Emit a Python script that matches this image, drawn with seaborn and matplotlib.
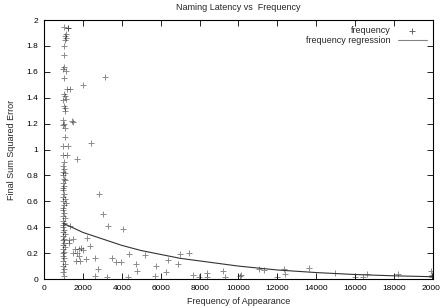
import matplotlib
matplotlib.use("Agg")
import matplotlib.pyplot as plt
import seaborn as sns
import pandas as pd

# Scatter data: frequency of appearance vs final sum squared error
cluster_x = [1030, 1230, 1120, 1100, 1110, 1080, 1030, 1030, 1010, 1000, 1150, 1010,
             1170, 1340, 1040, 1080, 1130, 960, 1040, 1060, 1080, 1000, 1050, 1000,
             1080, 1080, 1000, 1240, 1000, 1200, 1040, 1000, 1040,
             1000, 1060, 980, 1020, 1100, 1000, 1040, 980, 1000, 1040, 1000, 1080,
             1000, 1150, 1020, 1000, 980, 1040, 1000, 1060, 1000, 1020, 980, 1000,
             1040, 1000, 1060, 1000, 1020, 980, 1040, 1000, 1060, 1000, 1020, 980,
             1000, 1040, 1000, 1060, 1000, 1020, 1000, 1040]
cluster_y = [1.948, 1.936, 1.89, 1.876, 1.86, 1.846, 1.80, 1.73, 1.64, 1.62, 1.61, 1.555,
             1.47, 1.47, 1.43, 1.41, 1.39, 1.38, 1.336, 1.318, 1.30, 1.23, 1.20, 1.19,
             1.17, 1.10, 1.027, 1.027, 0.957, 0.957, 0.906, 0.875, 0.85,
             0.83, 0.816, 0.80, 0.77, 0.765, 0.74, 0.72, 0.70, 0.687, 0.66, 0.636, 0.62,
             0.60, 0.585, 0.57, 0.55, 0.53, 0.51, 0.49, 0.47, 0.45, 0.43, 0.42, 0.40,
             0.38, 0.36, 0.35, 0.33, 0.31, 0.30, 0.28, 0.26, 0.25, 0.23, 0.21, 0.20,
             0.18, 0.16, 0.14, 0.12, 0.10, 0.08, 0.055, 0.02]
spread_x = [3136, 1990, 1420, 1510, 1234, 2400, 1680, 2845, 3016, 1337, 3290, 4045,
            1475, 2195, 1270, 1300, 2365, 1610, 1800, 1900, 2020, 1510, 1710, 1815,
            4355, 5210, 6990, 7470, 3480, 3700, 2640, 2140, 1645, 1850, 3940, 4730,
            6375, 6890, 5760, 2776, 4765, 6270, 2600, 3220, 4320, 5720,
            7680, 7990, 8400, 8400, 9190, 9320, 10080, 10130, 11070, 11310, 12340,
            12400, 11960, 13610, 14950, 15980, 16390, 16590, 18200, 19880, 19930,
            19950, 19980, 19960]
spread_y = [1.56, 1.50, 1.22, 1.21, 1.936, 1.05, 0.93, 0.654, 0.50, 0.41, 0.41, 0.386,
            0.31, 0.32, 0.30, 0.275, 0.257, 0.23, 0.235, 0.24, 0.225, 0.20, 0.198, 0.18,
            0.193, 0.185, 0.195, 0.198, 0.16, 0.13, 0.16, 0.157, 0.14, 0.14, 0.13, 0.116,
            0.144, 0.12, 0.103, 0.075, 0.064, 0.052, 0.026, 0.015, 0.013, 0.026,
            0.03, 0.018, 0.05, 0.013, 0.064, 0.013, 0.023, 0.033, 0.077, 0.07, 0.077,
            0.036, 0.013, 0.087, 0.05, 0.013, 0.013, 0.036, 0.036, 0.064, 0.023,
            0.015, 0.02, 0.03]

# Regression curve
reg_x = [1000, 2000, 3000, 4000, 5000, 6000, 7000, 8000, 10000, 12000, 14000, 16000, 18000, 20000]
reg_y = [0.43, 0.36, 0.31, 0.26, 0.22, 0.19, 0.16, 0.14, 0.10, 0.07, 0.05, 0.035, 0.025, 0.018]

x_ticks = [0, 2000, 4000, 6000, 8000, 10000, 12000, 14000, 16000, 18000, 20000]
y_ticks = [0, 0.2, 0.4, 0.6, 0.8, 1.0, 1.2, 1.4, 1.6, 1.8, 2.0]
y_tick_labels = ["0", "0.2", "0.4", "0.6", "0.8", "1", "1.2", "1.4", "1.6", "1.8", "2"]

pts = pd.DataFrame({"x": cluster_x + spread_x, "y": cluster_y + spread_y})
reg = pd.DataFrame({"x": reg_x, "y": reg_y})

sns.set_style("ticks")
plt.rcParams["font.family"] = ["Liberation Sans", "DejaVu Sans"]

fig = plt.figure(figsize=(4.4, 3.08), dpi=100)
ax = fig.add_axes([0.1, 0.094, 0.884, 0.841])

sns.scatterplot(data=pts, x="x", y="y", marker="+", color="black", s=15,
                linewidth=0.7, alpha=0.45, ax=ax, label="frequency")
sns.lineplot(data=reg, x="x", y="y", color="#333333", linewidth=0.8, ax=ax,
             label="frequency regression")

ax.set_xlim(0, 20000)
ax.set_ylim(0, 2)
ax.set_xticks(x_ticks)
ax.set_xticklabels([str(t) for t in x_ticks])
ax.set_yticks(y_ticks)
ax.set_yticklabels(y_tick_labels)
ax.tick_params(direction="in", top=True, right=True, length=4, width=0.6,
               labelsize=6, pad=4, colors="black")
for s in ax.spines.values():
    s.set_linewidth(0.8)
    s.set_color("black")

ax.set_title("Naming Latency vs  Frequency", fontsize=6.5, pad=7)
ax.set_xlabel("Frequency of Appearance", fontsize=6.5, labelpad=4)
ax.set_ylabel("Final Sum Squared Error", fontsize=6.5, labelpad=8)

leg = ax.legend(loc="upper right", frameon=False, markerfirst=False, fontsize=6.5,
                handlelength=3.2, handletextpad=0.8, labelspacing=0.1,
                borderaxespad=0.3)
for h in leg.legend_handles:
    h.set_alpha(0.6)

fig.savefig("out.png", dpi=100)
